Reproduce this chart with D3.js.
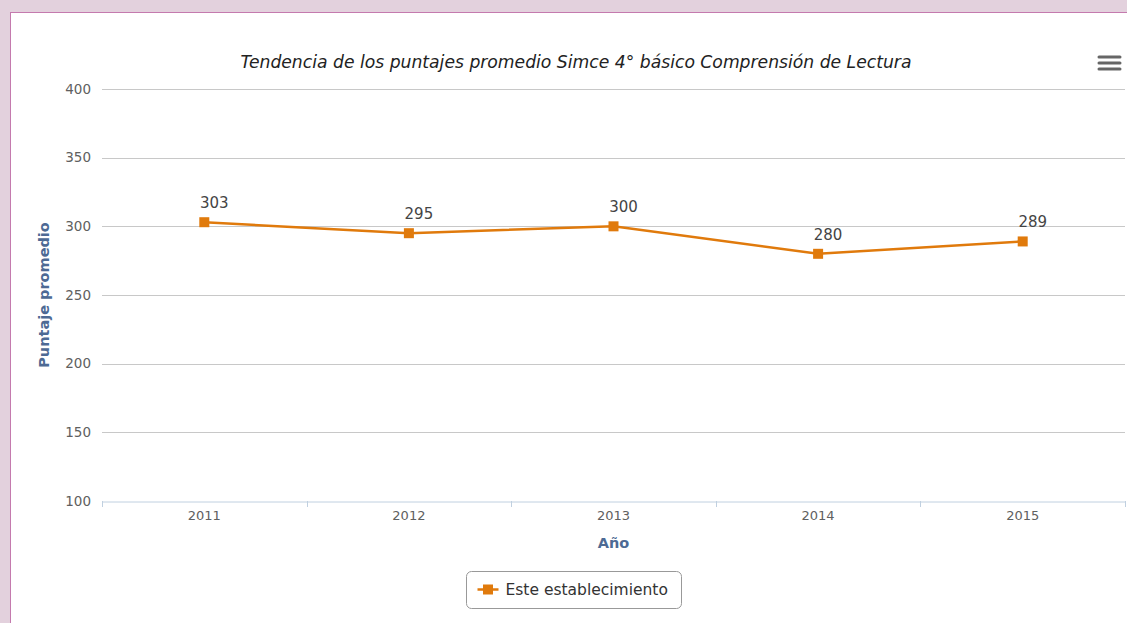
<!DOCTYPE html>
<html>
<head>
<meta charset="utf-8">
<script src="https://cdn.jsdelivr.net/npm/d3@7"></script>
<style>
  body { margin: 0; background: #e3d1dd; }
  svg { display: block; }
</style>
</head>
<body>
<svg id="svg"></svg>
<script>
// data
let years = ["2011", "2012", "2013", "2014", "2015"];
let scores = [303, 295, 300, 280, 289];
let yTicks = [100, 150, 200, 250, 300, 350, 400];

let width = 1127;
let height = 623;
let svg = d3.select("#svg").attr("width", width).attr("height", height);
let font = "'DejaVu Sans', sans-serif";
let orange = "#e07a0c";

// panel
svg.append("rect")
  .attr("x", 10.5).attr("y", 12.5)
  .attr("width", width).attr("height", height)
  .attr("fill", "#fff").attr("stroke", "#c47aae");

let plotLeft = 102, plotRight = 1125, plotTop = 89, plotBottom = 501;

let xScale = d3.scaleBand().domain(years).range([plotLeft, plotRight]);
let yScale = d3.scaleLinear().domain([100, 400]).range([plotBottom, plotTop]);

// grid
svg.append("g")
  .selectAll("line")
  .data(yTicks.filter(d => d > 100))
  .enter().append("line")
  .attr("x1", plotLeft).attr("x2", plotRight)
  .attr("y1", d => Math.round(yScale(d)) + 0.5)
  .attr("y2", d => Math.round(yScale(d)) + 0.5)
  .attr("stroke", "#c8c8c8");

// y labels
let yAxis = d3.axisLeft(yScale).tickValues(yTicks).tickSize(0).tickPadding(11);
let yg = svg.append("g").attr("transform", "translate(" + plotLeft + ",0)").call(yAxis);
yg.select(".domain").remove();
yg.selectAll("text").attr("font-family", font).attr("font-size", 13.5).attr("fill", "#606060");

// x axis
let xAxis = d3.axisBottom(xScale).tickSize(0).tickPadding(9);
let xg = svg.append("g").attr("transform", "translate(0," + (plotBottom + 0.5) + ")").call(xAxis);
xg.select(".domain").attr("stroke", "#c0d0e0");
xg.selectAll("text").attr("font-family", font).attr("font-size", 13).attr("fill", "#606060");

let bounds = years.map(d => xScale(d)).concat([plotRight]);
svg.append("g")
  .selectAll("line")
  .data(bounds)
  .enter().append("line")
  .attr("x1", d => Math.round(d) + 0.5).attr("x2", d => Math.round(d) + 0.5)
  .attr("y1", plotBottom).attr("y2", plotBottom + 6)
  .attr("stroke", "#c0d0e0");

// axis titles
svg.append("text")
  .attr("transform", "translate(49," + ((plotTop + plotBottom) / 2) + ") rotate(-90)")
  .attr("text-anchor", "middle")
  .attr("font-family", font).attr("font-size", 14.5).attr("font-weight", "bold")
  .attr("fill", "#4d6a94")
  .text("Puntaje promedio");

svg.append("text")
  .attr("x", (plotLeft + plotRight) / 2).attr("y", 548)
  .attr("text-anchor", "middle")
  .attr("font-family", font).attr("font-size", 14.5).attr("font-weight", "bold")
  .attr("fill", "#4d6a94")
  .text("Año");

// title
svg.append("text")
  .attr("x", 576).attr("y", 68)
  .attr("text-anchor", "middle")
  .attr("font-family", font).attr("font-size", 17.2).attr("font-style", "italic")
  .attr("fill", "#222")
  .text("Tendencia de los puntajes promedio Simce 4° básico Comprensión de Lectura");

// menu icon
svg.append("g")
  .selectAll("line")
  .data([0, 6, 12])
  .enter().append("line")
  .attr("x1", 1099).attr("x2", 1120)
  .attr("y1", d => 57 + d).attr("y2", d => 57 + d)
  .attr("stroke", "#666").attr("stroke-width", 3).attr("stroke-linecap", "round");

// series
let cx = d => xScale(d) + xScale.bandwidth() / 2;
let line = d3.line().x((d, i) => cx(years[i])).y(d => yScale(d));
svg.append("path")
  .datum(scores)
  .attr("d", line)
  .attr("fill", "none").attr("stroke", orange).attr("stroke-width", 2.5);

svg.selectAll(".pt")
  .data(scores)
  .enter().append("rect")
  .attr("class", "pt")
  .attr("x", (d, i) => cx(years[i]) - 5)
  .attr("y", d => yScale(d) - 5)
  .attr("width", 10).attr("height", 10)
  .attr("fill", orange);

svg.selectAll(".lbl")
  .data(scores)
  .enter().append("text")
  .attr("class", "lbl")
  .attr("x", (d, i) => cx(years[i]) + 10)
  .attr("y", d => yScale(d) - 14)
  .attr("text-anchor", "middle")
  .attr("font-family", font).attr("font-size", 15)
  .attr("fill", "#444")
  .text(d => d);

// legend
let lg = svg.append("g").attr("transform", "translate(466.5,571.5)");
lg.append("rect")
  .attr("width", 215).attr("height", 37).attr("rx", 5)
  .attr("fill", "#fff").attr("stroke", "#999");
lg.append("line")
  .attr("x1", 11).attr("x2", 32).attr("y1", 18).attr("y2", 18)
  .attr("stroke", orange).attr("stroke-width", 2.5);
lg.append("rect")
  .attr("x", 16.5).attr("y", 13).attr("width", 10).attr("height", 10)
  .attr("fill", orange);
lg.append("text")
  .attr("x", 39).attr("y", 23.5)
  .attr("font-family", font).attr("font-size", 15.5)
  .attr("fill", "#333")
  .text("Este establecimiento");
</script>
</body>
</html>
